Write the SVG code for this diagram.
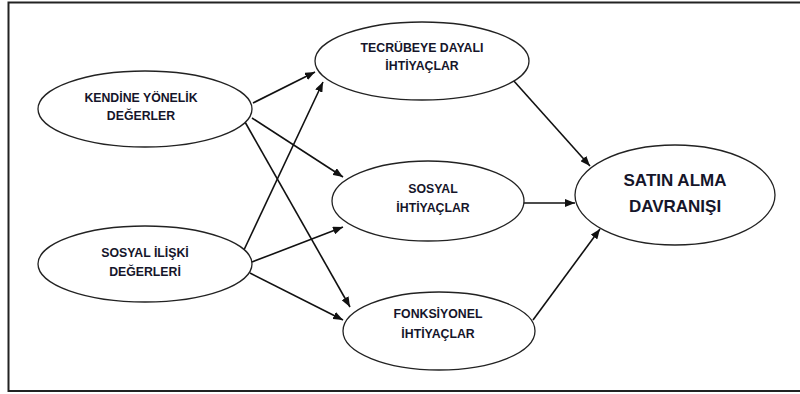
<svg xmlns="http://www.w3.org/2000/svg" width="800" height="394" viewBox="0 0 800 394">
  <defs>
    <marker id="arrow" viewBox="0 0 10 8" refX="10" refY="4" markerWidth="10" markerHeight="8" markerUnits="userSpaceOnUse" orient="auto">
      <path d="M0,0 L10,4 L0,8 z" fill="#111"/>
    </marker>
    <style>
      .node ellipse { fill: #fff; stroke: #222; stroke-width: 1.3; }
      .node text { font-family: "Liberation Sans", Arial, sans-serif; font-weight: bold; font-size: 12.3px; fill: #15152a; text-anchor: middle; }
      .node text.big { font-size: 17px; }
      .edges line { stroke: #111; stroke-width: 1.6; marker-end: url(#arrow); }
    </style>
  </defs>
  <rect width="800" height="394" fill="#fff"/>
  <!-- outer frame (right edge runs past the canvas) -->
  <path d="M810,2.5 H8.5 V391 H810" fill="none" stroke="#222" stroke-width="2"/>

  <g class="edges">
    <line x1="253" y1="103" x2="315" y2="72"/>
    <line x1="252" y1="118" x2="343" y2="177"/>
    <line x1="245" y1="122" x2="350" y2="307"/>
    <line x1="243" y1="252" x2="323" y2="82"/>
    <line x1="252" y1="262" x2="343" y2="227"/>
    <line x1="250" y1="273" x2="343" y2="320"/>
    <line x1="513" y1="80" x2="590" y2="166"/>
    <line x1="523" y1="203" x2="575" y2="203"/>
    <line x1="533" y1="320" x2="600" y2="229"/>
  </g>

  <g id="kendine" class="node">
    <ellipse cx="145" cy="109" rx="107" ry="38"/>
    <text x="141" y="102">KENDİNE YÖNELİK</text>
    <text x="141" y="120">DEĞERLER</text>
  </g>
  <g id="sosyal-iliski" class="node">
    <ellipse cx="145" cy="264" rx="107" ry="38"/>
    <text x="145" y="257">SOSYAL İLİŞKİ</text>
    <text x="145" y="276">DEĞERLERİ</text>
  </g>
  <g id="tecrubeye" class="node">
    <ellipse cx="422" cy="61" rx="107" ry="39"/>
    <text x="422" y="52">TECRÜBEYE DAYALI</text>
    <text x="422" y="70">İHTİYAÇLAR</text>
  </g>
  <g id="sosyal-ihtiyaclar" class="node">
    <ellipse cx="428" cy="201" rx="96" ry="40"/>
    <text x="433" y="193">SOSYAL</text>
    <text x="433" y="212">İHTİYAÇLAR</text>
  </g>
  <g id="fonksiyonel" class="node">
    <ellipse cx="439" cy="331" rx="96" ry="39"/>
    <text x="438" y="318">FONKSİYONEL</text>
    <text x="438" y="338">İHTİYAÇLAR</text>
  </g>
  <g id="satin-alma" class="node">
    <ellipse cx="675" cy="195" rx="100" ry="50"/>
    <text class="big" x="675" y="186">SATIN ALMA</text>
    <text class="big" x="675" y="212">DAVRANIŞI</text>
  </g>
</svg>
